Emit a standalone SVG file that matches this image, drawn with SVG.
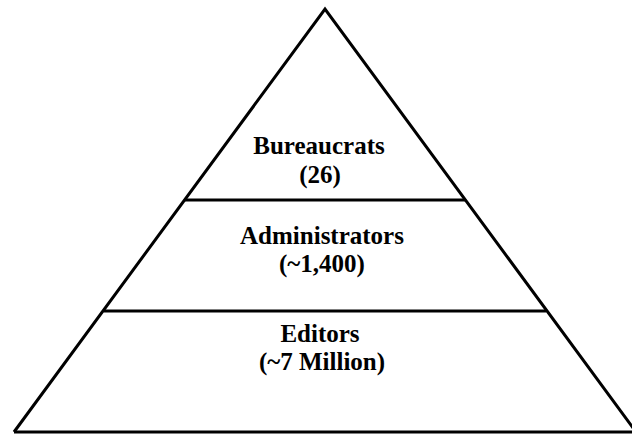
<svg xmlns="http://www.w3.org/2000/svg" width="632" height="434" viewBox="0 0 632 434">
  <style>
    .edge { stroke: #000; stroke-width: 3; fill: none; stroke-linecap: butt; }
    .label { font-family: "Liberation Serif", "Times New Roman", serif; font-weight: bold; font-size: 25px; fill: #000; text-anchor: middle; }
  </style>
  <rect width="632" height="434" fill="#fff"/>
  <g id="connectors">
    <!-- outer triangle -->
    <polyline class="edge" points="14,432 325,9 636,432"/>
    <line class="edge" x1="14" y1="432" x2="632" y2="432"/>
    <!-- tier dividers -->
    <line class="edge" x1="185" y1="200" x2="465" y2="200"/>
    <line class="edge" x1="104" y1="311" x2="546" y2="311"/>
  </g>
  <g id="bureaucrats">
    <text class="label" x="319" y="154">Bureaucrats</text>
    <text class="label" x="320" y="183">(26)</text>
  </g>
  <g id="administrators">
    <text class="label" x="322" y="244">Administrators</text>
    <text class="label" x="322" y="272">(~1,400)</text>
  </g>
  <g id="editors">
    <text class="label" x="320" y="342">Editors</text>
    <text class="label" x="322" y="370">(~7 Million)</text>
  </g>
</svg>
